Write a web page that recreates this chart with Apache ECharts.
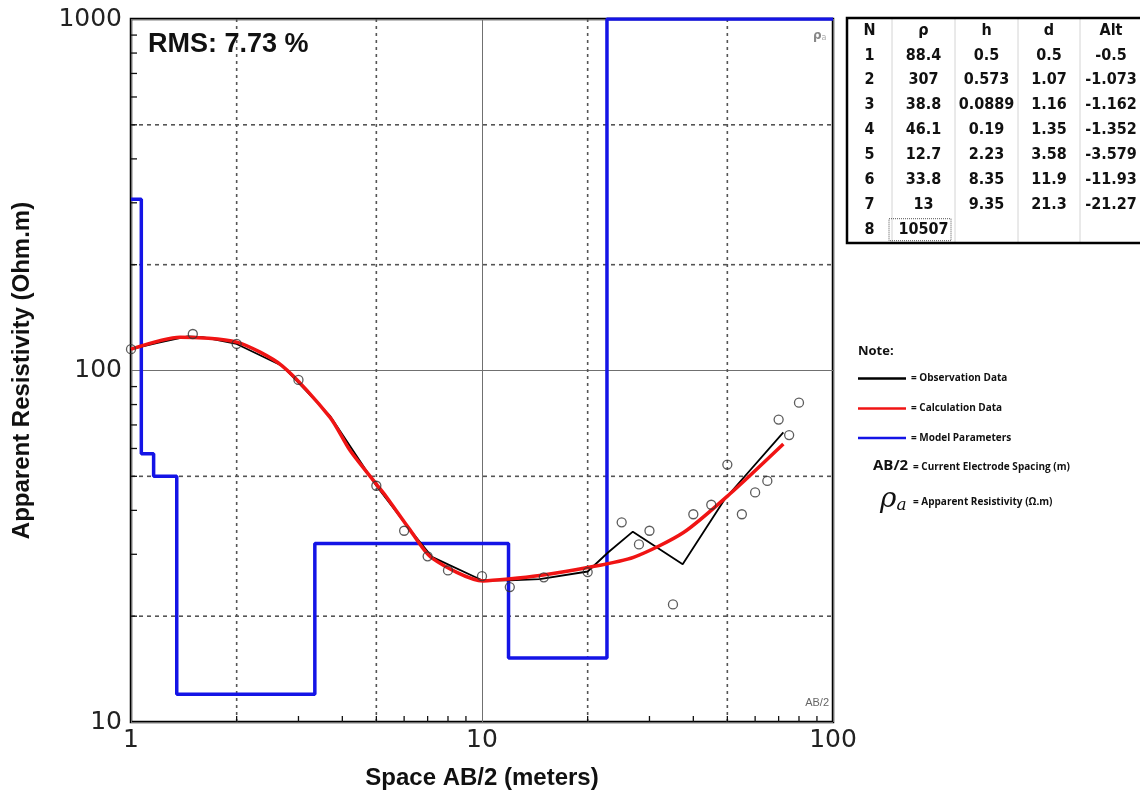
<!DOCTYPE html>
<html><head><meta charset="utf-8">
<script src="https://cdn.jsdelivr.net/npm/echarts@6/dist/echarts.min.js"></script>
<style>html,body{margin:0;padding:0;background:#fff;}#chart{width:1140px;height:795px;}</style>
</head><body><div id="chart"></div>
<script>
// ---- data ----
const obsX = [1, 1.5, 2, 3, 5, 6, 7, 8, 10, 12, 15, 20, 25, 28, 30, 35, 40, 45, 50, 55, 60, 65, 70, 75, 80];
const obsY = [115, 127, 119, 94, 47, 35, 29.6, 27, 26, 24.2, 25.8, 26.7, 37, 32, 35, 21.6, 39, 41.5, 54, 39, 45, 48.5, 72.5, 65.5, 81];

const obsLineX = [1, 1.2, 1.45, 1.6, 2, 2.7, 3.7, 5, 6.2, 7.2, 10, 12, 14.6, 20, 22.9, 26.9, 37.3, 49.2, 72.2];
const obsLineY = [115, 120, 125, 124.5, 119, 103, 74, 47, 35.5, 29.5, 25.3, 25.3, 25.5, 26.8, 30.4, 34.8, 28.1, 43.1, 66.7];

const calcX = [1, 1.38, 2, 2.69, 3.69, 4.21, 5, 5.35, 6.2, 7.19, 10.09, 11.9, 14.6, 20, 27, 37.5, 50.9, 72.2];
const calcY = [115, 124.4, 120.4, 103.3, 73.6, 59.2, 47.5, 43.6, 35.5, 29.3, 25.2, 25.5, 26.1, 27.5, 29.4, 34.6, 44.6, 61.8];

const modelX = [1, 1.07, 1.16, 1.35, 3.34, 11.9, 22.7, 100];
const modelY = [307, 58, 50, 12, 32.2, 15.2, 1000, 1000];

const gridDashX = [2, 5, 20, 50];
const gridDashY = [20, 50, 200, 500];
const xMinorTicks = [2, 3, 4, 5, 6, 7, 8, 9, 20, 30, 40, 50, 60, 70, 80, 90];
const yMinorTicks = [20, 30, 40, 50, 60, 70, 80, 90, 200, 300, 400, 500, 600, 700, 800, 900];
const xTickLabels = ['1', '10', '100'];
const yTickLabels = ['10', '100', '1000'];

const tableHeader = ['N', 'ρ', 'h', 'd', 'Alt'];
const layerN = ['1', '2', '3', '4', '5', '6', '7', '8'];
const layerRho = ['88.4', '307', '38.8', '46.1', '12.7', '33.8', '13', '10507'];
const layerH = ['0.5', '0.573', '0.0889', '0.19', '2.23', '8.35', '9.35', ''];
const layerD = ['0.5', '1.07', '1.16', '1.35', '3.58', '11.9', '21.3', ''];
const layerAlt = ['-0.5', '-1.073', '-1.162', '-1.352', '-3.579', '-11.93', '-21.27', ''];

const noteLabels = ['= Observation Data', '= Calculation Data', '= Model Parameters'];
const noteColors = ['#000000', '#f01414', '#1414e6'];

// ---- build ----
const pairs = (xs, ys) => xs.map((x, i) => [x, ys[i]]);
const chart = echarts.init(document.getElementById('chart'), null, {renderer: 'canvas'});

const X0 = 131, Y0 = 19, X1 = 833, Y1 = 722;

const graphics = [];
function txt(x, y, text, font, fill, align, valign, extra) {
  const o = {type: 'text', x: x, y: y, z: 100, silent: true,
    style: Object.assign({text: text, font: font, fill: fill || '#000',
      textAlign: align || 'left', align: align || 'left',
      textVerticalAlign: valign || 'middle', verticalAlign: valign || 'middle'}, extra || {})};
  graphics.push(o);
}
// in-plot labels
txt(148, 45, 'RMS: 7.73 %', 'bold 27px "Liberation Sans", Arial, sans-serif', '#111');
txt(813, 36, '{g|ρ}{s|a}', '12px "DejaVu Sans"', '#888', 'left', 'middle',
  {rich: {g: {font: 'bold 12px "DejaVu Sans"', fill: '#888'}, s: {font: '8px "DejaVu Sans"', fill: '#aaa', padding: [4, 0, 0, 0]}}});
txt(829, 703, 'AB/2', '11px "Liberation Sans", Arial, sans-serif', '#666', 'right', 'middle');

// table
const colSep = [892, 955, 1018, 1080];
const colCenter = [869.5, 923.5, 986.5, 1049, 1111];
const tTop = 18, tBot = 243, tLeft = 847;
const rowY0 = 30.5, rowStep = 24.9;
colSep.forEach(cx => graphics.push({type: 'line', z: 90, silent: true,
  shape: {x1: cx, y1: tTop, x2: cx, y2: tBot}, style: {stroke: '#d4d4d4', lineWidth: 1}}));
graphics.push({type: 'rect', z: 91, silent: true,
  shape: {x: tLeft, y: tTop, width: 320, height: tBot - tTop},
  style: {fill: 'none', stroke: '#000', lineWidth: 2.5}});
const tFont = 'bold 16px "DejaVu Sans Condensed", "DejaVu Sans", sans-serif';
tableHeader.forEach((h, j) => txt(colCenter[j], rowY0, h, tFont, '#111', 'center', 'middle'));
const cols = [layerN, layerRho, layerH, layerD, layerAlt];
cols.forEach((col, j) => col.forEach((v, i) => {
  if (v !== '') txt(colCenter[j], rowY0 + rowStep * (i + 1), v, tFont, '#111', 'center', 'middle');
}));
// dotted focus box around the last rho cell
graphics.push({type: 'rect', z: 92, silent: true,
  shape: {x: 889, y: rowY0 + rowStep * 8 - 11, width: 62, height: 22},
  style: {fill: 'none', stroke: '#555', lineWidth: 1, lineDash: [1, 1]}});

// note
txt(858, 351, 'Note:', 'bold 13px "Open Sans", sans-serif', '#111');
[378.5, 408.5, 438].forEach((y, i) => {
  graphics.push({type: 'line', z: 90, silent: true, shape: {x1: 858, y1: y, x2: 906, y2: y},
    style: {stroke: noteColors[i], lineWidth: 2.5}});
  txt(911, y, noteLabels[i], 'bold 10px "Open Sans", sans-serif', '#111');
});
txt(873, 466, 'AB/2', 'bold 15px "Open Sans", sans-serif', '#111');
txt(913, 467, '= Current Electrode Spacing (m)', 'bold 10px "Open Sans", sans-serif', '#111');
txt(880, 500, '{g|ρ}{s|a}', 'italic 28px "DejaVu Serif"', '#111', 'left', 'middle',
  {rich: {g: {font: 'italic 28px "DejaVu Serif", serif', fill: '#111'}, s: {font: 'italic 17px "DejaVu Serif", serif', fill: '#111', padding: [12, 0, 0, 0]}}});
txt(913, 502, '= Apparent Resistivity (Ω.m)', 'bold 10px "Open Sans", sans-serif', '#111');

const option = {
  animation: false,
  backgroundColor: '#ffffff',
  grid: {left: X0, top: Y0, width: X1 - X0, height: Y1 - Y0, show: true, outerBoundsMode: 'none', containLabel: false,
    borderColor: '#000', borderWidth: 2.5, backgroundColor: 'transparent'},
  xAxis: {type: 'log', logBase: 10, min: 1, max: 100,
    name: 'Space AB/2 (meters)', nameLocation: 'middle', nameGap: 44,
    nameTextStyle: {fontFamily: '"Liberation Sans", Arial, sans-serif', fontWeight: 'bold', fontSize: 24, color: '#111'},
    axisLine: {show: false}, axisTick: {show: false}, minorTick: {show: false},
    axisLabel: {fontFamily: '"DejaVu Sans", sans-serif', fontSize: 25, color: '#222', margin: 6,
      formatter: v => xTickLabels[Math.round(Math.log10(v))]},
    splitLine: {show: true, lineStyle: {color: '#707070', width: 1}}},
  yAxis: {type: 'log', logBase: 10, min: 10, max: 1000,
    name: 'Apparent Resistivity (Ohm.m)', nameLocation: 'middle', nameGap: 97, nameRotate: 90,
    nameTextStyle: {fontFamily: '"Liberation Sans", Arial, sans-serif', fontWeight: 'bold', fontSize: 24, color: '#111'},
    axisLine: {show: false}, axisTick: {show: false}, minorTick: {show: false},
    axisLabel: {fontFamily: '"DejaVu Sans", sans-serif', fontSize: 25, color: '#222', margin: 9,
      formatter: v => yTickLabels[Math.round(Math.log10(v)) - 1]},
    splitLine: {show: true, lineStyle: {color: '#707070', width: 1}}},
  graphic: {elements: graphics},
  series: [
    {type: 'custom', z: 1, silent: true, clip: false, encode: {x: 0, y: 1},
      data: gridDashX.map(v => [v, 10]),
      renderItem: (p, api) => { const v = api.value(0); const a = api.coord([v, 10]); const b = api.coord([v, 1000]);
        return {type: 'line', shape: {x1: a[0], y1: a[1], x2: b[0], y2: b[1]}, style: {stroke: '#555', lineWidth: 1.6, lineDash: [3, 4]}}; }},
    {type: 'custom', z: 1, silent: true, clip: false, encode: {x: 0, y: 1},
      data: gridDashY.map(v => [1, v]),
      renderItem: (p, api) => { const v = api.value(1); const a = api.coord([1, v]); const b = api.coord([100, v]);
        return {type: 'line', shape: {x1: a[0], y1: a[1], x2: b[0], y2: b[1]}, style: {stroke: '#555', lineWidth: 1.6, lineDash: [4, 4]}}; }},
    {type: 'custom', z: 6, silent: true, clip: false, encode: {x: 0, y: 1},
      data: xMinorTicks.map(v => [v, 10]),
      renderItem: (p, api) => { const a = api.coord([api.value(0), 10]);
        return {type: 'line', shape: {x1: a[0], y1: a[1], x2: a[0], y2: a[1] - 6}, style: {stroke: '#111', lineWidth: 1.3}}; }},
    {type: 'custom', z: 6, silent: true, clip: false, encode: {x: 0, y: 1},
      data: yMinorTicks.map(v => [1, v]),
      renderItem: (p, api) => { const a = api.coord([1, api.value(1)]);
        return {type: 'line', shape: {x1: a[0], y1: a[1], x2: a[0] + 6, y2: a[1]}, style: {stroke: '#111', lineWidth: 1.3}}; }},
    {name: 'Model Parameters', type: 'line', z: 2, step: 'end', data: pairs(modelX, modelY),
      symbol: 'none', clip: true, lineStyle: {color: '#1414e6', width: 3.5}},
    {name: 'Observation Data', type: 'line', z: 3, data: pairs(obsLineX, obsLineY),
      symbol: 'none', lineStyle: {color: '#000', width: 1.8}},
    {name: 'Calculation Data', type: 'line', z: 4, data: pairs(calcX, calcY), smooth: 0.25,
      symbol: 'none', lineStyle: {color: '#f01414', width: 3.5}},
    {name: 'Observed points', type: 'scatter', z: 5, data: pairs(obsX, obsY),
      symbol: 'circle', symbolSize: 9,
      itemStyle: {color: 'rgba(0,0,0,0)', borderColor: '#333', borderWidth: 1.3}}
  ]
};
chart.setOption(option);
</script></body></html>
